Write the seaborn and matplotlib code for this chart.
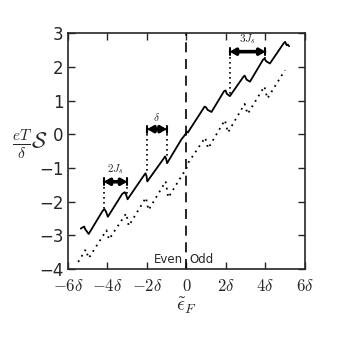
import matplotlib
matplotlib.use("Agg")
import matplotlib.pyplot as plt
import seaborn as sns
import numpy as np

# ---- data ----
solid_x = [-5.35, -5.25, -5.18, -5.12, -4.95,
           -4.25, -4.15, -4.07, -3.98,
           -3.25, -3.12, -3.05, -2.98,
           -2.15, -2.07, -2.02, -1.98,
           -1.15, -1.08, -1.03, -0.98,
           -0.25, -0.05, 0.03, 0.08, 0.15,
           0.92, 0.99, 1.08, 1.15, 1.27,
           1.91, 1.98, 2.05, 2.2,
           2.88, 2.95, 3.05, 3.22,
           3.89, 3.95, 4.05, 4.23,
           4.94, 5.0, 5.08, 5.14, 5.2]
solid_y = [-2.80, -2.76, -2.74, -2.82, -2.96,
           -2.28, -2.22, -2.30, -2.45,
           -1.77, -1.72, -1.80, -1.93,
           -1.22, -1.16, -1.24, -1.40,
           -0.72, -0.66, -0.72, -0.86,
           -0.15, 0.00, 0.08, 0.05, 0.12,
           0.82, 0.80, 0.72, 0.70, 0.66,
           1.28, 1.30, 1.20, 1.13,
           1.70, 1.74, 1.62, 1.56,
           2.22, 2.24, 2.16, 2.10,
           2.71, 2.74, 2.64, 2.66, 2.61]

dot_x = [-5.48, -5.10, -4.95,
         -4.05, -3.92,
         -3.05, -2.92,
         -2.05, -1.92,
         -1.05, -0.92,
         -0.16, -0.05, 0.10,
         0.95, 1.10,
         1.95, 2.10,
         2.95, 3.10,
         3.95, 4.10,
         4.99]
dot_y = [-3.79, -3.42, -3.68,
         -2.85, -3.12,
         -2.35, -2.72,
         -1.88, -2.25,
         -1.40, -1.88,
         -1.16, -1.10, -0.84,
         -0.10, -0.42,
         0.42, 0.05,
         0.90, 0.60,
         1.42, 1.06,
         1.90]

x_ticks = [-6, -4, -2, 0, 2, 4, 6]
x_tick_labels = [r"$-6\delta$", r"$-4\delta$", r"$-2\delta$", r"$0$",
                 r"$2\delta$", r"$4\delta$", r"$6\delta$"]
y_ticks = [-4, -3, -2, -1, 0, 1, 2, 3]
y_tick_labels = ["\u22124", "\u22123", "\u22122", "\u22121", "0", "1", "2", "3"]

# annotations: (x_left, x_right, y_bar, label, y_left_end, y_right_end)
bars = [(-4.18, -3.00, -1.41, r"$2J_s$", -2.25, -1.76),
        (-1.98, -1.00, 0.15, r"$\delta$", -1.16, -0.67),
        (2.20, 4.00, 2.45, r"$3J_s$", 1.16, 2.24)]

# ---- plot ----
sns.set_style("ticks")
plt.rcParams["mathtext.fontset"] = "cm"
plt.rcParams["font.family"] = ["DejaVu Sans"]

fig = plt.figure(figsize=(3.38, 3.38), dpi=100)
ax = fig.add_axes([0.201, 0.204, 0.701, 0.698])

sns.lineplot(x=solid_x, y=solid_y, ax=ax, color="k", lw=1.3, sort=False,
             estimator=None)
sns.lineplot(x=dot_x, y=dot_y, ax=ax, color="k", lw=1.3, sort=False,
             estimator=None, linestyle=(0, (1, 2.5)))

ax.axvline(0, color="k", lw=1.2, linestyle=(0, (6, 4)))

for xl, xr, yb, lab, yl, yr in bars:
    ax.annotate("", xy=(xl, yb), xytext=(xr, yb),
                arrowprops=dict(arrowstyle="<|-|>,head_length=0.3,head_width=0.18",
                                lw=2.6, color="k", shrinkA=0, shrinkB=0))
    ax.annotate("", xy=(xl, yb), xytext=(xr, yb),
                arrowprops=dict(arrowstyle="|-|,widthA=0.25,widthB=0.25",
                                lw=1.5, color="k", shrinkA=0, shrinkB=0))
    ax.text((xl + xr) / 2, yb + 0.17, lab, ha="center", va="bottom", fontsize=8)
    ax.plot([xl, xl], [yb, yl], color="k", lw=1.2, linestyle=(0, (1, 2)))
    ax.plot([xr, xr], [yb, yr], color="k", lw=1.2, linestyle=(0, (1, 2)))

ax.text(-0.17, -3.72, "Even", ha="right", va="center", fontsize=8.5)
ax.text(0.17, -3.72, "Odd", ha="left", va="center", fontsize=8.5)

ax.set_xlim(-6, 6)
ax.set_ylim(-4, 3)
ax.set_xticks(x_ticks)
ax.set_xticklabels(x_tick_labels, fontsize=12)
ax.set_yticks(y_ticks)
ax.set_yticklabels(y_tick_labels, fontsize=12)
ax.tick_params(direction="in", top=True, right=True, length=5, width=1, pad=3)
ax.tick_params(axis="x", pad=6)
for s in ax.spines.values():
    s.set_linewidth(1.2)

ax.set_xlabel(r"$\tilde{\epsilon}_F$", fontsize=14, labelpad=0)
ax.set_ylabel(r"$\frac{eT}{\delta}\mathcal{S}$", fontsize=16, rotation=0,
              va="center")
ax.yaxis.set_label_coords(-0.16, 0.53)

fig.savefig("out.png", dpi=100)
